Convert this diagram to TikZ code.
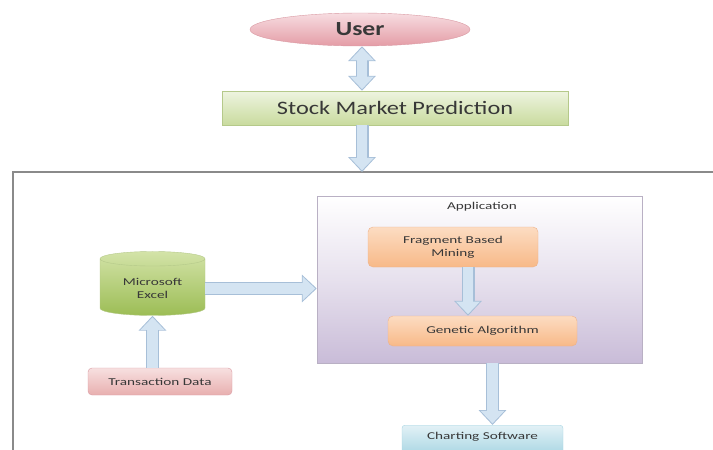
\documentclass[tikz,border=0pt]{standalone}
\usepackage{fontspec}
\setmainfont{Carlito}[FakeStretch=1.28]
\newfontfamily\smallf{Carlito}[FakeStretch=1.45]
\usetikzlibrary{shapes.geometric,arrows.meta,calc}
\definecolor{txt}{HTML}{383838}
\definecolor{aedge}{HTML}{A7BFD8}
\definecolor{afill}{HTML}{D4E4F2}
\definecolor{pinkT}{HTML}{F7DDE1}
\definecolor{pinkB}{HTML}{E49CA6}
\definecolor{pinkE}{HTML}{D99AA3}
\definecolor{grnT}{HTML}{EEF4E0}
\definecolor{grnB}{HTML}{C9DB9E}
\definecolor{grnE}{HTML}{B5C98A}
\definecolor{xlT}{HTML}{D3E3A8}
\definecolor{xlB}{HTML}{9CBD55}
\definecolor{lavB}{HTML}{C9BCD8}
\definecolor{lavE}{HTML}{B9B0C4}
\definecolor{orT}{HTML}{FCDCC2}
\definecolor{orB}{HTML}{F8B988}
\definecolor{orE}{HTML}{EDB28A}
\definecolor{trT}{HTML}{F7E0E0}
\definecolor{trB}{HTML}{E8AFAF}
\definecolor{chT}{HTML}{E2F1F6}
\definecolor{chB}{HTML}{A8D6E3}
\definecolor{frame}{HTML}{8A8A8A}
\tikzset{
  x=1pt,y=-1pt,
  every node/.style={text=txt,font=\smallf\fontsize{10.5}{13}\selectfont,align=center},
  blockarrow/.style={
    preaction={draw=aedge,line width=13pt,shorten >=0pt,shorten <=0pt,
      -{Triangle[width=27pt,length=15pt]}},
    draw=afill,line width=10.5pt,shorten >=1.6pt,
    -{Triangle[width=23pt,length=12.5pt]}},
  dblarrow/.style={
    preaction={draw=aedge,line width=13pt,shorten >=0pt,shorten <=0pt,
      {Triangle[width=27pt,length=15pt]}-{Triangle[width=27pt,length=15pt]}},
    draw=afill,line width=10.5pt,shorten >=1.6pt,shorten <=1.6pt,
    {Triangle[width=23pt,length=12.5pt]}-{Triangle[width=23pt,length=12.5pt]}},
}
\begin{document}
\begin{tikzpicture}
\useasboundingbox (0,0) rectangle (713,450);
% outer frame
\draw[frame,line width=1.6pt] (713,172) -- (13,172) -- (13,452);
\coordinate (ftop) at (362,172);

\node[ellipse,minimum width=220,minimum height=33,draw=pinkE,
  top color=pinkT,bottom color=pinkB,font=\rmfamily\fontsize{20}{22}\selectfont\bfseries]
  (user) at (360,29.5) {User};
\node[rectangle,minimum width=346,minimum height=34,draw=grnE,
  top color=grnT,bottom color=grnB,font=\rmfamily\fontsize{19}{22}\selectfont]
  (smp) at (395,108) {Stock Market Prediction};

\node[rectangle,minimum width=325,minimum height=167,draw=lavE,
  top color=white,bottom color=lavB,middle color=white!55!lavB]
  (app) at (479.5,279.5) {};
\node (applab) at (482,207) {Application};

\node[rectangle,rounded corners=5pt,minimum width=170,minimum height=40,draw=orE,
  top color=orT,bottom color=orB]
  (fbm) at (453,247) {Fragment Based\\Mining};
\node[rectangle,rounded corners=5pt,minimum width=189,minimum height=30,draw=orE,
  top color=orT,bottom color=orB]
  (ga) at (482.5,331) {Genetic Algorithm};

\node[cylinder,shape border rotate=90,aspect=0.22,minimum width=105,minimum height=64,
  draw=grnE,top color=xlT,bottom color=xlB]
  (excel) at (152.5,288.5) {Microsoft\\Excel};

\node[rectangle,rounded corners=4pt,minimum width=144,minimum height=27,draw=pinkE,
  top color=trT,bottom color=trB]
  (trans) at (160,381.5) {Transaction Data};

\node[rectangle,rounded corners=3pt,minimum width=161,minimum height=30,draw=chB,
  top color=chT,bottom color=chB,anchor=north,text depth=9pt]
  (chart) at (482.5,425) {Charting Software};

% connector end points
\coordinate (fbmout) at ($(fbm.south)+(15,0)$);
\coordinate (appout) at ($(app.south)+(13,0)$);

% connectors
\draw[dblarrow] (user.south -| ftop) -- (smp.north -| ftop);
\draw[blockarrow] (smp.south -| ftop) -- (ftop);
\draw[blockarrow] (excel.east) -- (excel.east -| app.west);
\draw[blockarrow] (excel.south |- trans.north) -- (excel.south);
\draw[blockarrow] (fbmout) -- (fbmout |- ga.north);
\draw[blockarrow] (appout) -- (appout |- chart.north);
\end{tikzpicture}
\end{document}
